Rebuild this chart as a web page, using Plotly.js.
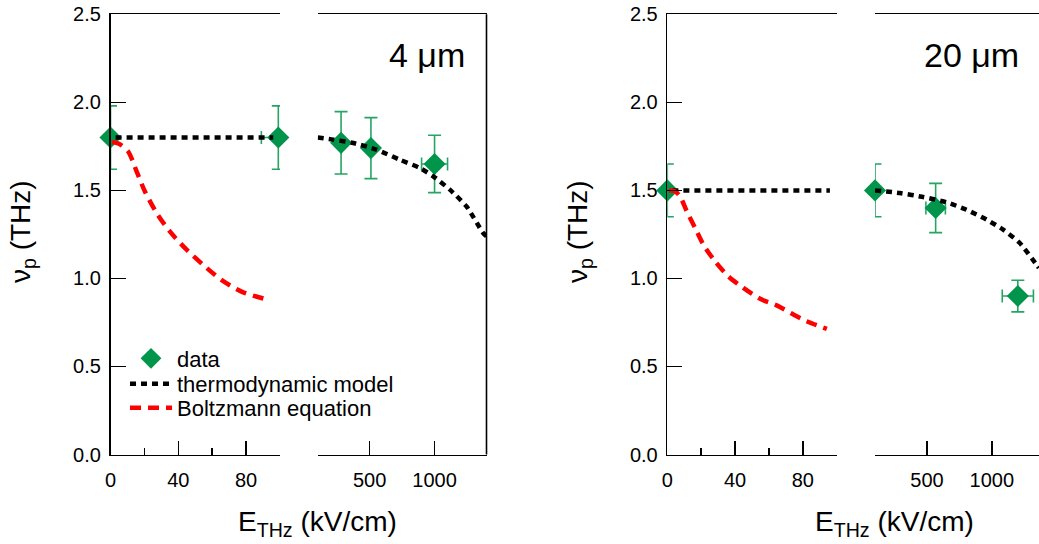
<!DOCTYPE html>
<html><head><meta charset="utf-8">
<script src="https://cdn.plot.ly/plotly-3.0.1.min.js"></script>
<style>html,body{margin:0;padding:0;background:#fff}</style>
</head><body><div id="chart" style="width:1039px;height:544px"></div>
<script>
// ---------- 4 µm panel ----------
const dataLowE_4 = [0, 99];
const dataLowV_4 = [1.80, 1.80];
const dataLowErrV_4 = [0.18, 0.18];
const dataLowErrEPlus_4 = [0, 0];
const dataLowErrEMinus_4 = [0, 10];
const dataHighE_4 = [280, 510, 1000];
const dataHighV_4 = [1.77, 1.74, 1.65];
const dataHighErrV_4 = [0.177, 0.173, 0.163];
const dataHighErrE_4 = [0, 0, 100];
const thermoLowE_4 = [3, 96];
const thermoLowV_4 = [1.80, 1.80];
const thermoHighE_4 = [100, 220, 374, 554, 733, 887, 990, 1118, 1246, 1374, 1400];
const thermoHighV_4 = [1.80, 1.788, 1.769, 1.731, 1.674, 1.627, 1.58, 1.504, 1.409, 1.258, 1.24];
const boltzE_4 = [1, 5, 10.4, 15.4, 20.3, 27.2, 35, 44.9, 56.7, 66.5, 78.3, 94.1];
const boltzV_4 = [1.775, 1.765, 1.721, 1.608, 1.494, 1.372, 1.267, 1.163, 1.06, 0.984, 0.921, 0.876];

// ---------- 20 µm panel ----------
const dataLowE_20 = [0];
const dataLowV_20 = [1.50];
const dataLowErrV_20 = [0.15];
const dataHighE_20 = [100, 567, 1200];
const dataHighV_20 = [1.50, 1.40, 0.90];
const dataHighErrV_20 = [0.15, 0.14, 0.09];
const dataHighErrE_20 = [0, 75, 120];
const thermoLowE_20 = [3, 96];
const thermoLowV_20 = [1.50, 1.50];
const thermoHighE_20 = [100, 292, 472, 651, 805, 959, 1087, 1215, 1344, 1362];
const thermoHighV_20 = [1.50, 1.485, 1.462, 1.432, 1.39, 1.334, 1.277, 1.201, 1.078, 1.06];
const boltzE_20 = [1, 4.5, 7.5, 11.5, 16.4, 21.3, 28.2, 36, 44.9, 54.8, 64.6, 74.4, 82.3, 94.2];
const boltzV_20 = [1.50, 1.495, 1.466, 1.381, 1.287, 1.192, 1.097, 1.012, 0.946, 0.884, 0.847, 0.795, 0.757, 0.713];

// ---------- labels ----------
const panelLabels = ['4 \u03bcm', '20 \u03bcm'];
const xTitle = 'E<sub>THz</sub> (kV/cm)';
const yTitle = '\u03bd<sub>p</sub> (THz)';
const highTickVals = [500, 1000];
const highTickText = ['500', '1000'];

const FONT = 'Liberation Sans, Arial, sans-serif';
const GREEN = '#00954a';
const GREEN_ERR = '#26a463';
const LW = 1.6;

function dataTrace(x, y, ey, ex, xa, ya, show) {
  const t = {
    x: x, y: y, xaxis: xa, yaxis: ya, type: 'scatter', mode: 'markers', name: 'data',
    showlegend: show, legend: 'legend', legendgroup: 'data', cliponaxis: false,
    marker: {symbol: 'diamond', size: 17, color: GREEN},
    error_y: {type: 'data', array: ey, visible: true, color: GREEN_ERR, thickness: 1.6, width: 6.5}
  };
  if (ex) t.error_x = Object.assign({type: 'data', visible: true, color: GREEN_ERR, thickness: 1.6, width: 6.5}, ex);
  return t;
}
function lineTrace(x, y, xa, ya, kind, show) {
  const thermo = kind === 'thermo';
  return {
    x: x, y: y, xaxis: xa, yaxis: ya, type: 'scatter', mode: 'lines',
    name: thermo ? 'thermodynamic model' : 'Boltzmann equation',
    legend: thermo ? 'legend2' : 'legend3',
    legendgroup: kind, showlegend: show,
    line: thermo ? {color: '#000000', width: 4.5, dash: '6px,5px', shape: 'spline', smoothing: 0.6}
                 : {color: '#ff0000', width: 4.5, dash: '11px,7px', shape: 'spline', smoothing: 0.8}
  };
}

const traces = [
  dataTrace(dataLowE_4, dataLowV_4, dataLowErrV_4, {symmetric: false, array: dataLowErrEPlus_4, arrayminus: dataLowErrEMinus_4}, 'x', 'y', true),
  dataTrace(dataHighE_4, dataHighV_4, dataHighErrV_4, {array: dataHighErrE_4}, 'x2', 'y', false),
  dataTrace(dataLowE_20, dataLowV_20, dataLowErrV_20, null, 'x3', 'y2', false),
  dataTrace(dataHighE_20, dataHighV_20, dataHighErrV_20, {array: dataHighErrE_20}, 'x4', 'y2', false),
  lineTrace(thermoLowE_4, thermoLowV_4, 'x', 'y', 'thermo', true),
  lineTrace(thermoHighE_4, thermoHighV_4, 'x2', 'y', 'thermo', false),
  lineTrace(thermoLowE_20, thermoLowV_20, 'x3', 'y2', 'thermo', false),
  lineTrace(thermoHighE_20, thermoHighV_20, 'x4', 'y2', 'thermo', false),
  lineTrace(boltzE_4, boltzV_4, 'x', 'y', 'boltz', true),
  lineTrace(boltzE_20, boltzV_20, 'x3', 'y2', 'boltz', false)
];

const W = 1039, H = 544;
const yDom = [(H - 454.5) / H, (H - 14.3) / H];
const tickFont = {family: FONT, size: 20, color: '#000'};

function lowX(domain, anchor) {
  return {
    domain: domain, anchor: anchor, range: [0, 100], showgrid: false, zeroline: false,
    showline: true, mirror: true, linecolor: '#000', linewidth: LW,
    ticks: 'inside', ticklen: 14, tickwidth: LW, tickcolor: '#000', tick0: 0, dtick: 40,
    minor: {dtick: 20, ticks: 'inside', ticklen: 7, tickwidth: LW, tickcolor: '#000', showgrid: false},
    tickfont: tickFont, ticklabelstandoff: 7, fixedrange: true
  };
}
function highX(domain, anchor, range) {
  return {
    domain: domain, anchor: anchor, range: range, showgrid: false, zeroline: false,
    showline: true, mirror: true, linecolor: '#000', linewidth: LW,
    ticks: 'inside', ticklen: 14, tickwidth: LW, tickcolor: '#000',
    tickmode: 'array', tickvals: highTickVals, ticktext: highTickText,
    tickfont: tickFont, ticklabelstandoff: 7, fixedrange: true
  };
}
function yAx(anchor) {
  return {
    domain: yDom, anchor: anchor, range: [0, 2.5], showgrid: false, zeroline: false,
    showline: true, linecolor: '#000', linewidth: LW,
    ticks: 'inside', ticklen: 15, tickwidth: LW, tickcolor: '#000', tick0: 0, dtick: 0.5,
    tickformat: '.1f', tickfont: tickFont, ticklabelstandoff: 4, fixedrange: true
  };
}
function legendAt(yCenter) {
  return {
    x: 125 / W, y: (H - yCenter) / H, xanchor: 'left', yanchor: 'middle',
    bgcolor: 'rgba(0,0,0,0)', borderwidth: 0, itemwidth: 42,
    font: {family: FONT, size: 22, color: '#000'}, tracegroupgap: 0
  };
}

const titleFont = {family: FONT, size: 28, color: '#000'};
const labelFont = {family: FONT, size: 34, color: '#000'};
const layout = {
  width: W, height: H, margin: {l: 0, r: 0, t: 0, b: 0},
  paper_bgcolor: '#fff', plot_bgcolor: 'rgba(0,0,0,0)',
  font: {family: FONT, color: '#000'},
  xaxis: lowX([110.5 / W, 280 / W], 'y'),
  xaxis2: highX([317.7 / W, 486.5 / W], 'y', [100, 1400]),
  xaxis3: lowX([667.3 / W, 836.7 / W], 'y2'),
  xaxis4: highX([875 / W, 1], 'y2', [100, 1363]),
  yaxis: yAx('x'),
  yaxis2: yAx('x3'),
  showlegend: true,
  legend: legendAt(358.5),
  legend2: legendAt(384),
  legend3: legendAt(408),
  shapes: [
    {type: 'line', xref: 'x2 domain', yref: 'y domain', x0: 1, x1: 1, y0: 0, y1: 1,
     line: {color: '#000', width: LW}}
  ],
  annotations: [
    {text: panelLabels[0], xref: 'paper', yref: 'paper', x: 426.5 / W, y: (H - 55) / H,
     xanchor: 'center', yanchor: 'middle', showarrow: false, font: labelFont},
    {text: panelLabels[1], xref: 'paper', yref: 'paper', x: 971.7 / W, y: (H - 55) / H,
     xanchor: 'center', yanchor: 'middle', showarrow: false, font: labelFont},
    {text: xTitle, xref: 'paper', yref: 'paper', x: 317 / W, y: (H - 523.5) / H,
     xanchor: 'center', yanchor: 'middle', showarrow: false, font: titleFont},
    {text: xTitle, xref: 'paper', yref: 'paper', x: 894 / W, y: (H - 523.5) / H,
     xanchor: 'center', yanchor: 'middle', showarrow: false, font: titleFont},
    {text: yTitle, xref: 'paper', yref: 'paper', x: 22 / W, y: (H - 232) / H, textangle: -90,
     xanchor: 'center', yanchor: 'middle', showarrow: false, font: titleFont},
    {text: yTitle, xref: 'paper', yref: 'paper', x: 579 / W, y: (H - 232) / H, textangle: -90,
     xanchor: 'center', yanchor: 'middle', showarrow: false, font: titleFont}
  ]
};

Plotly.newPlot('chart', traces, layout, {displayModeBar: false, staticPlot: true});
</script>
</body></html>
